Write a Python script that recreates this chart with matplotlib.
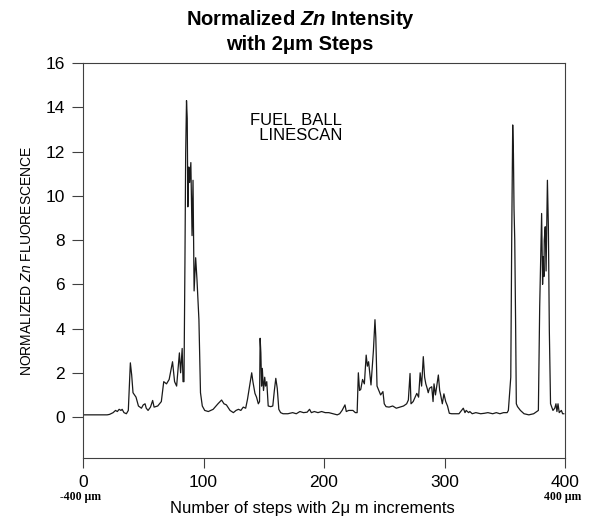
import matplotlib
matplotlib.use("Agg")
import matplotlib.pyplot as plt

plt.rcParams['font.family'] = ['Liberation Sans', 'DejaVu Sans']
plt.rcParams['mathtext.fontset'] = 'custom'
plt.rcParams['mathtext.rm'] = 'Liberation Sans'
plt.rcParams['mathtext.it'] = 'Liberation Sans:italic'
plt.rcParams['mathtext.bf'] = 'Liberation Sans:bold'
plt.rcParams['mathtext.bfit'] = 'Liberation Sans:bold:italic'

# linescan: step number vs normalized Zn fluorescence
steps = [0, 20, 22, 25, 27, 28.5, 30, 31.5, 32.5, 34, 36, 37.6, 38.4, 39.3, 40.4, 41.5,
         44, 46, 48.5, 50, 51.5, 52.5, 54, 56, 57.8, 59, 62, 65, 67, 69.3, 71.5, 74.3,
         76, 77.7, 80, 81, 82.3, 83, 83.8, 84.6, 85.2, 85.9, 86.5, 87, 87.8, 88.5, 89.5,
         90.5, 91.3, 92.2, 93.5, 94.6, 96.2, 97.5, 99, 101, 104, 108, 112, 115, 117, 119,
         122, 124.8, 127, 129, 131, 133, 135, 136.5, 138.5, 140, 141, 142.7, 144, 145.5,
         146.5, 147, 147.6, 148.2, 148.8, 149.8, 150.8, 151.5, 152.5, 153.7, 155.8, 157.5,
         158.8, 160, 161.2, 162.5, 164, 166, 170, 174, 177, 180, 183, 186, 188, 189.5,
         192, 195, 198, 201, 204, 207.6, 211, 213, 215, 217.4, 218.5, 220.5, 222, 224,
         226, 227.5, 228.5, 229.5, 230.5, 232, 233.5, 235, 236, 237, 239, 241, 242.3, 243,
         244, 245.5, 247, 248.9, 250, 251.5, 254, 257, 260, 263, 266, 268.6, 270, 271.4,
         272.2, 274, 277, 278.5, 279.8, 281, 282.4, 283.5, 284.5, 285.6, 286.5, 287.5,
         289.4, 290.5, 291.3, 292.5, 294.9, 296, 296.8, 298.2, 299.5, 301, 302.5, 304,
         306, 310, 312, 315.6, 317, 318, 320, 321, 323, 326, 330, 333, 336, 340, 343, 346,
         349, 352, 353, 355, 355.8, 356.6, 357.2, 357.7, 358.3, 359, 359.6, 360.6, 363,
         366, 370, 374, 377.9, 379, 380, 380.6, 381.4, 382, 382.5, 382.8, 383.6, 384.3,
         385.4, 386.2, 387, 388, 390, 391.5, 392.5, 393.3, 394.2, 395.2, 397, 398, 399]
zn = [0.1, 0.1, 0.12, 0.2, 0.3, 0.25, 0.35, 0.3, 0.35, 0.2, 0.15, 0.3, 1.3, 2.45, 1.9, 1.1,
      0.9, 0.5, 0.4, 0.55, 0.6, 0.4, 0.3, 0.45, 0.75, 0.45, 0.5, 0.7, 1.6, 1.5, 1.7, 2.5,
      1.6, 1.4, 2.9, 2.0, 3.1, 1.6, 1.6, 7.0, 11.9, 14.3, 13.5, 9.5, 11.3, 10.6, 11.5,
      8.2, 10.7, 5.7, 7.2, 6.2, 4.4, 1.1, 0.5, 0.3, 0.25, 0.35, 0.6, 0.77, 0.6, 0.55,
      0.3, 0.2, 0.3, 0.35, 0.3, 0.45, 0.4, 0.8, 1.5, 2.0, 1.6, 1.07, 0.9, 0.6,
      0.7, 3.56, 2.9, 1.4, 2.2, 1.2, 1.8, 1.4, 1.6, 0.5, 0.47, 0.5,
      1.2, 1.75, 1.3, 0.35, 0.2, 0.15, 0.15, 0.2, 0.15, 0.25, 0.2, 0.22, 0.35, 0.2,
      0.25, 0.2, 0.25, 0.2, 0.2, 0.15, 0.1, 0.15, 0.3, 0.55, 0.25, 0.3, 0.3, 0.3,
      0.2, 0.2, 2.0, 1.2, 1.25, 1.7, 1.5, 2.8, 2.3, 2.5, 1.45, 3.0, 4.4, 3.6,
      1.4, 1.2, 1.0, 1.15, 0.6, 0.47, 0.45, 0.5, 0.4, 0.45, 0.5, 0.6, 0.77, 1.97,
      0.6, 0.7, 1.07, 0.9, 2.0, 1.4, 2.73, 1.8, 1.5, 1.3, 1.1, 1.3,
      1.37, 0.7, 1.5, 1.0, 1.9, 1.2, 1.0, 0.6, 1.05, 0.7, 0.5, 0.17,
      0.15, 0.15, 0.15, 0.4, 0.2, 0.3, 0.2, 0.25, 0.15, 0.2, 0.15, 0.17, 0.2, 0.15, 0.2, 0.15,
      0.2, 0.2, 0.3, 1.8, 8.2, 13.2, 11.9, 9.4, 8.0, 4.3, 0.6, 0.47, 0.3,
      0.15, 0.1, 0.15, 0.3, 5.0, 7.5, 9.2, 6.0, 7.25, 6.35, 8.0, 8.6, 6.6,
      10.7, 8.6, 3.9, 0.6, 0.3, 0.4, 0.6, 0.25, 0.6, 0.2, 0.3, 0.15, 0.15]

xticks = [0, 100, 200, 300, 400]
yticks = [0, 2, 4, 6, 8, 10, 12, 14, 16]

fig = plt.figure(figsize=(5.92, 5.20), dpi=100)
ax = fig.add_axes([83 / 592, 62 / 520, 482 / 592, 395 / 520])

ax.plot(steps, zn, color='#1a1a1a', lw=0.9)

ax.set_xlim(0, 400)
ax.set_ylim(-1.85, 16)
ax.set_xticks(xticks)
ax.set_yticks(yticks)
ax.tick_params(axis='x', direction='out', length=7, width=0.8, labelsize=12.5, pad=5, color='#404040')
ax.tick_params(axis='y', direction='out', length=8, width=0.8, labelsize=12.5, pad=5, color='#404040')
for s in ax.spines.values():
    s.set_color('#404040')
    s.set_linewidth(0.8)

ax.text(177, 13.05, 'FUEL  BALL\n  LINESCAN', fontsize=12, ha='center', va='center',
        linespacing=1.0)

fig.text(300 / 592, 1 - 31 / 520, 'Normalized $\\mathbfit{Zn}$ Intensity\nwith 2\u03bcm Steps',
         ha='center', va='center', fontsize=14.5, fontweight='bold', linespacing=1.25)

ax.set_ylabel('NORMALIZED $\\mathit{Zn}$ FLUORESCENCE', fontsize=10, labelpad=8)
fig.text(312 / 592, 1 - 508 / 520, 'Number of steps with 2\u03bc m increments',
         ha='center', va='center', fontsize=12)

fig.text(80 / 592, 1 - 497 / 520, '-400 \u03bcm', ha='center', va='center', fontsize=8.5,
         fontweight='bold', family='Liberation Serif')
fig.text(563 / 592, 1 - 497 / 520, '400 \u03bcm', ha='center', va='center', fontsize=8.5,
         fontweight='bold', family='Liberation Serif')

fig.savefig('out.png', dpi=100)
